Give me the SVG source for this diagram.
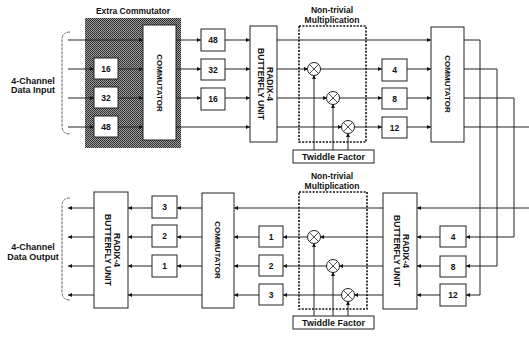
<svg xmlns="http://www.w3.org/2000/svg" width="529" height="337" viewBox="0 0 529 337">
<style>
.bx{fill:#fff;stroke:#222;stroke-width:1}
.t{font-family:"Liberation Sans",Arial,sans-serif;font-weight:bold;fill:#111}
.n{font-size:8.5px;text-anchor:middle}
.c{stroke:#222;stroke-width:1;fill:none}
.x{stroke:#222;stroke-width:0.8;fill:none}
.dot{fill:none;stroke:#111;stroke-width:1.6;stroke-dasharray:2,1.4}
.mul{fill:#fff;stroke:#222;stroke-width:1}
.br{fill:none;stroke:#666;stroke-width:1;stroke-dasharray:3,1}
</style>
<defs>
<pattern id="h" width="2" height="2" patternUnits="userSpaceOnUse">
<rect width="2" height="2" fill="#9c9c9c"/>
<rect x="0" y="0" width="1" height="1" fill="#2a2a2a"/>
<rect x="1" y="1" width="1" height="1" fill="#3a3a3a"/>
</pattern>
<marker id="a" viewBox="0 0 6 6" refX="6" refY="3" markerWidth="5" markerHeight="4" orient="auto" markerUnits="userSpaceOnUse">
<path d="M0,0L6,3L0,6z" fill="#111"/>
</marker>
</defs>
<rect width="529" height="337" fill="#fff"/>

<g id="labels">
<text class="t" x="33" y="84" font-size="9" text-anchor="middle">4-Channel</text>
<text class="t" x="33" y="93" font-size="9" text-anchor="middle">Data Input</text>
<text class="t" x="33" y="250" font-size="9" text-anchor="middle">4-Channel</text>
<text class="t" x="33" y="260" font-size="9" text-anchor="middle">Data Output</text>
<path class="br" d="M70,32 Q62,32 62,40 V126 Q62,134 70,134"/>
<path class="br" d="M70,198 Q62,198 62,206 V292 Q62,300 70,300"/>
</g>

<g id="extra-commutator">
<rect x="85" y="18" width="96" height="130" fill="url(#h)"/>
<text class="t" x="133" y="14" font-size="8.5" text-anchor="middle">Extra Commutator</text>
</g>

<g id="connectors">
<path class="c" marker-end="url(#a)" d="M68,40H143"/>
<path class="c" marker-end="url(#a)" d="M68,69H94"/>
<path class="c" marker-end="url(#a)" d="M118,69H143"/>
<path class="c" marker-end="url(#a)" d="M68,98H94"/>
<path class="c" marker-end="url(#a)" d="M118,98H143"/>
<path class="c" marker-end="url(#a)" d="M68,127H94"/>
<path class="c" marker-end="url(#a)" d="M118,127H143"/>
<path class="c" marker-end="url(#a)" d="M176,40H201"/>
<path class="c" marker-end="url(#a)" d="M176,69H201"/>
<path class="c" marker-end="url(#a)" d="M176,98H201"/>
<path class="c" marker-end="url(#a)" d="M225,40H250"/>
<path class="c" marker-end="url(#a)" d="M225,69H250"/>
<path class="c" marker-end="url(#a)" d="M225,98H250"/>
<path class="c" marker-end="url(#a)" d="M176,127H250"/>
<path class="c" marker-end="url(#a)" d="M277,40H431"/>
<path class="c" marker-end="url(#a)" d="M277,69H308"/>
<path class="c" marker-end="url(#a)" d="M320,69H382"/>
<path class="c" marker-end="url(#a)" d="M277,98H327"/>
<path class="c" marker-end="url(#a)" d="M339,98H382"/>
<path class="c" marker-end="url(#a)" d="M277,127H342"/>
<path class="c" marker-end="url(#a)" d="M354,127H382"/>
<path class="c" marker-end="url(#a)" d="M407,69H431"/>
<path class="c" marker-end="url(#a)" d="M407,98H431"/>
<path class="c" marker-end="url(#a)" d="M407,127H431"/>
<path class="c" marker-end="url(#a)" d="M314,150V75"/>
<path class="c" marker-end="url(#a)" d="M333,150V104"/>
<path class="c" marker-end="url(#a)" d="M348,150V133"/>
<path class="c" marker-end="url(#a)" d="M464,40H480V295H466"/>
<path class="c" marker-end="url(#a)" d="M464,69H497V266H466"/>
<path class="c" marker-end="url(#a)" d="M464,98H514V237H466"/>
<path class="c" d="M464,127H529"/>
<path class="c" marker-end="url(#a)" d="M529,208H417"/>
<path class="c" marker-end="url(#a)" d="M440,237H417"/>
<path class="c" marker-end="url(#a)" d="M440,266H417"/>
<path class="c" marker-end="url(#a)" d="M440,295H417"/>
<path class="c" marker-end="url(#a)" d="M383,208H234"/>
<path class="c" marker-end="url(#a)" d="M383,237H320"/>
<path class="c" marker-end="url(#a)" d="M308,237H283"/>
<path class="c" marker-end="url(#a)" d="M383,266H339"/>
<path class="c" marker-end="url(#a)" d="M327,266H283"/>
<path class="c" marker-end="url(#a)" d="M383,295H354"/>
<path class="c" marker-end="url(#a)" d="M342,295H283"/>
<path class="c" marker-end="url(#a)" d="M259,237H234"/>
<path class="c" marker-end="url(#a)" d="M259,266H234"/>
<path class="c" marker-end="url(#a)" d="M259,295H234"/>
<path class="c" marker-end="url(#a)" d="M314,316V243"/>
<path class="c" marker-end="url(#a)" d="M333,316V272"/>
<path class="c" marker-end="url(#a)" d="M348,316V301"/>
<path class="c" marker-end="url(#a)" d="M202,208H177"/>
<path class="c" marker-end="url(#a)" d="M202,237H177"/>
<path class="c" marker-end="url(#a)" d="M202,266H177"/>
<path class="c" marker-end="url(#a)" d="M202,295H128"/>
<path class="c" marker-end="url(#a)" d="M152,208H128"/>
<path class="c" marker-end="url(#a)" d="M152,237H128"/>
<path class="c" marker-end="url(#a)" d="M152,266H128"/>
<path class="c" marker-end="url(#a)" d="M94,208H68"/>
<path class="c" marker-end="url(#a)" d="M94,237H68"/>
<path class="c" marker-end="url(#a)" d="M94,266H68"/>
<path class="c" marker-end="url(#a)" d="M94,295H68"/>
</g>

<g id="d16a"><rect class="bx" x="94" y="58" width="24" height="21"/><text class="t n" x="106" y="71.5">16</text></g>
<g id="d32a"><rect class="bx" x="94" y="87" width="24" height="21"/><text class="t n" x="106" y="100.5">32</text></g>
<g id="d48a"><rect class="bx" x="94" y="116" width="24" height="21"/><text class="t n" x="106" y="129.5">48</text></g>
<g id="comm0"><rect class="bx" x="143" y="25" width="33" height="115"/><text class="t" font-size="8" text-anchor="middle" transform="translate(157,83) rotate(90)">COMMUTATOR</text></g>
<g id="d48"><rect class="bx" x="201" y="29" width="24" height="22"/><text class="t n" x="213" y="43">48</text></g>
<g id="d32"><rect class="bx" x="201" y="59" width="24" height="21"/><text class="t n" x="213" y="72.5">32</text></g>
<g id="d16"><rect class="bx" x="201" y="88" width="24" height="22"/><text class="t n" x="213" y="102">16</text></g>
<g id="radix1"><rect class="bx" x="250" y="26" width="27" height="116"/>
<text class="t" font-size="8.5" text-anchor="middle" transform="translate(267,84) rotate(90)">RADIX-4</text>
<text class="t" font-size="8.5" text-anchor="middle" transform="translate(258,84) rotate(90)">BUTTERFLY UNIT</text></g>
<g id="ntm1"><rect class="dot" x="299" y="26" width="67" height="116"/>
<text class="t" x="332" y="13" font-size="8.5" text-anchor="middle">Non-trivial</text>
<text class="t" x="332" y="23" font-size="8.5" text-anchor="middle">Multiplication</text></g>
<g id="m1"><circle class="mul" cx="314" cy="69" r="6.5"/><path class="x" d="M309.4,64.4L318.6,73.6M318.6,64.4L309.4,73.6"/></g>
<g id="m2"><circle class="mul" cx="333" cy="98" r="6.5"/><path class="x" d="M328.4,93.4L337.6,102.6M337.6,93.4L328.4,102.6"/></g>
<g id="m3"><circle class="mul" cx="348" cy="127" r="6.5"/><path class="x" d="M343.4,122.4L352.6,131.6M352.6,122.4L343.4,131.6"/></g>
<g id="tw1"><rect class="bx" x="293" y="150" width="81" height="13"/><text class="t" x="333.5" y="159.5" font-size="9" text-anchor="middle">Twiddle Factor</text></g>
<g id="d4"><rect class="bx" x="382" y="59" width="25" height="22"/><text class="t n" x="394.5" y="73">4</text></g>
<g id="d8"><rect class="bx" x="382" y="88" width="25" height="21"/><text class="t n" x="394.5" y="101.5">8</text></g>
<g id="d12"><rect class="bx" x="382" y="117" width="25" height="21"/><text class="t n" x="394.5" y="130.5">12</text></g>
<g id="comm1"><rect class="bx" x="431" y="27" width="33" height="115"/><text class="t" font-size="8" text-anchor="middle" transform="translate(445,84) rotate(90)">COMMUTATOR</text></g>

<g id="radix2"><rect class="bx" x="383" y="193" width="34" height="116"/>
<text class="t" font-size="8.5" text-anchor="middle" transform="translate(403,251) rotate(90)">RADIX-4</text>
<text class="t" font-size="8.5" text-anchor="middle" transform="translate(394,251) rotate(90)">BUTTERFLY UNIT</text></g>
<g id="bd4"><rect class="bx" x="440" y="226" width="26" height="21"/><text class="t n" x="453" y="239.5">4</text></g>
<g id="bd8"><rect class="bx" x="440" y="256" width="26" height="21"/><text class="t n" x="453" y="269.5">8</text></g>
<g id="bd12"><rect class="bx" x="440" y="284" width="26" height="22"/><text class="t n" x="453" y="298">12</text></g>
<g id="ntm2"><rect class="dot" x="299" y="192" width="68" height="117"/>
<text class="t" x="332" y="179" font-size="8.5" text-anchor="middle">Non-trivial</text>
<text class="t" x="332" y="189" font-size="8.5" text-anchor="middle">Multiplication</text></g>
<g id="bm1"><circle class="mul" cx="314" cy="237" r="6.5"/><path class="x" d="M309.4,232.4L318.6,241.6M318.6,232.4L309.4,241.6"/></g>
<g id="bm2"><circle class="mul" cx="333" cy="266" r="6.5"/><path class="x" d="M328.4,261.4L337.6,270.6M337.6,261.4L328.4,270.6"/></g>
<g id="bm3"><circle class="mul" cx="348" cy="295" r="6.5"/><path class="x" d="M343.4,290.4L352.6,299.6M352.6,290.4L343.4,299.6"/></g>
<g id="tw2"><rect class="bx" x="293" y="316" width="81" height="13"/><text class="t" x="333.5" y="325.5" font-size="9" text-anchor="middle">Twiddle Factor</text></g>
<g id="b1"><rect class="bx" x="259" y="226" width="24" height="21"/><text class="t n" x="271" y="239.5">1</text></g>
<g id="b2"><rect class="bx" x="259" y="255" width="24" height="21"/><text class="t n" x="271" y="268.5">2</text></g>
<g id="b3"><rect class="bx" x="259" y="284" width="24" height="21"/><text class="t n" x="271" y="297.5">3</text></g>
<g id="comm2"><rect class="bx" x="202" y="193" width="32" height="115"/><text class="t" font-size="8" text-anchor="middle" transform="translate(215,250) rotate(90)">COMMUTATOR</text></g>
<g id="c3"><rect class="bx" x="152" y="196" width="25" height="22"/><text class="t n" x="164.5" y="210">3</text></g>
<g id="c2"><rect class="bx" x="152" y="225" width="25" height="22"/><text class="t n" x="164.5" y="239">2</text></g>
<g id="c1"><rect class="bx" x="152" y="255" width="25" height="22"/><text class="t n" x="164.5" y="269">1</text></g>
<g id="radix3"><rect class="bx" x="94" y="192" width="34" height="116"/>
<text class="t" font-size="8.5" text-anchor="middle" transform="translate(114,250) rotate(90)">RADIX-4</text>
<text class="t" font-size="8.5" text-anchor="middle" transform="translate(105,250) rotate(90)">BUTTERFLY UNIT</text></g>
</svg>
